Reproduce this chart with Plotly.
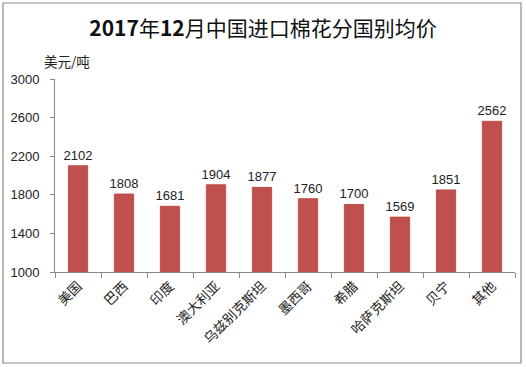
import plotly.graph_objects as go

countries = ["美国", "巴西", "印度", "澳大利亚", "乌兹别克斯坦", "墨西哥", "希腊", "哈萨克斯坦", "贝宁", "其他"]
prices = [2102, 1808, 1681, 1904, 1877, 1760, 1700, 1569, 1851, 2562]
y_ticks = [1000, 1400, 1800, 2200, 2600, 3000]

W, H = 526, 367
L, R, T, B = 55, 11, 79, 95
pw, ph = W - L - R, H - T - B

def px_x(x):
    return (x - L) / pw

def px_y(y):
    return (H - B - y) / ph

fig = go.Figure(go.Bar(
    x=countries, y=prices,
    marker=dict(color="#C0504D", line=dict(color="#B9413E", width=0.8)),
    width=0.42,
    text=[str(v) for v in prices], textposition="outside",
    constraintext="none",
    textfont=dict(size=13, color="#222222", family="Liberation Sans, Arial"),
    cliponaxis=False,
    hoverinfo="skip",
))

title_text = "<b>2017</b>年<b>12</b>月中国进口棉花分国别均价"

fig.update_layout(
    width=W, height=H,
    margin=dict(l=L, r=R, t=T, b=B),
    paper_bgcolor="white", plot_bgcolor="white",
    showlegend=False,
    font=dict(family="Noto Sans CJK SC", color="#222222"),
    title=dict(text=title_text, x=0.5, xref="container", xanchor="center",
               y=1 - 29 / H, yanchor="middle",
               font=dict(size=21, family="Noto Sans CJK SC", color="#111111")),
    xaxis=dict(type="category", showline=True, linecolor="#888888", linewidth=1,
               ticks="outside", tickson="boundaries", ticklen=5, tickcolor="#888888",
               tickangle=-45, tickfont=dict(size=13.5, family="Noto Sans CJK SC", color="#222222"),
               showgrid=False),
    yaxis=dict(range=[1000, 3000], tickvals=y_ticks, showline=True, linecolor="#888888", linewidth=1,
               ticks="outside", ticklen=4, tickcolor="#888888", showgrid=False, zeroline=False,
               ticklabelstandoff=8,
               tickfont=dict(size=13, family="Liberation Sans, Arial", color="#222222")),
    bargap=0.58,
)

fig.add_annotation(text="美元/吨", xref="paper", yref="paper", x=px_x(42), y=px_y(61),
                   xanchor="left", yanchor="middle", showarrow=False,
                   font=dict(size=13.5, family="Noto Sans CJK SC", color="#222222"))

fig.add_shape(type="rect", xref="paper", yref="paper",
              x0=px_x(3), x1=px_x(521), y0=px_y(363), y1=px_y(3),
              line=dict(color="#8C8C8C", width=1.2), fillcolor="rgba(0,0,0,0)", layer="above")

fig.write_html("out.html", config={"displayModeBar": False},
               post_script="document.body.style.margin='0';document.body.style.overflow='hidden';")
